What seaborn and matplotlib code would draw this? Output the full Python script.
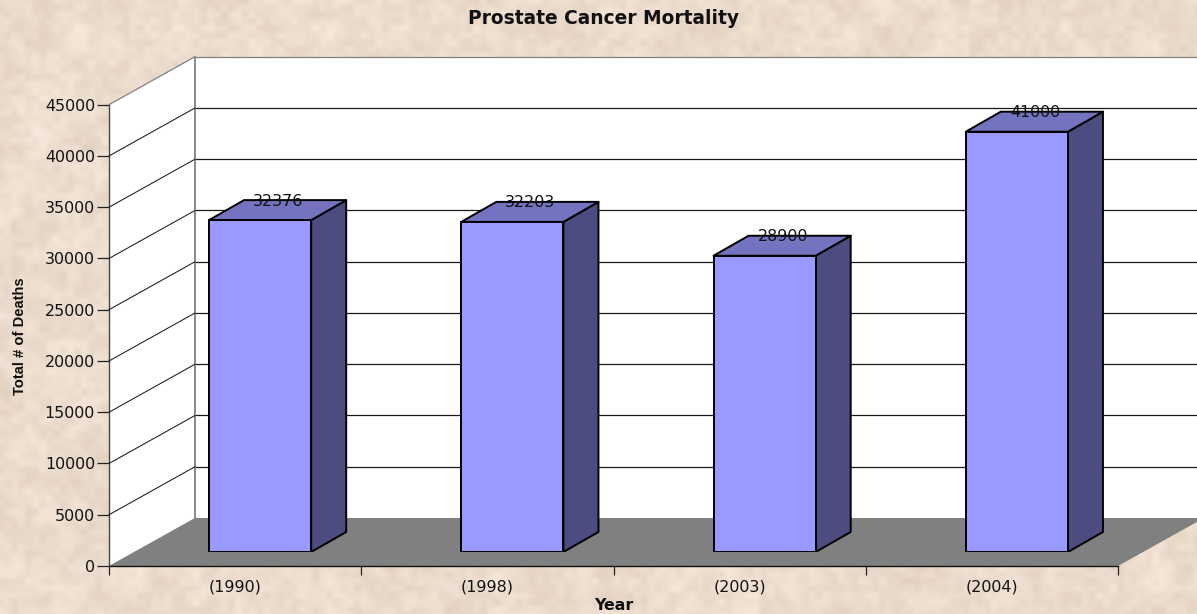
import numpy as np
import pandas as pd
import seaborn as sns
import matplotlib
matplotlib.use("Agg")
import matplotlib.pyplot as plt
from matplotlib.patches import Polygon
from matplotlib.transforms import ScaledTranslation

years = ["(1990)", "(1998)", "(2003)", "(2004)"]
deaths = [32376, 32203, 28900, 41000]
y_ticks = [0, 5000, 10000, 15000, 20000, 25000, 30000, 35000, 40000, 45000]
title = "Prostate Cancer Mortality"
x_title = "Year"
y_title = "Total # of Deaths"

W, H, DPI = 1197, 614, 100
sns.set_theme(style="white")
plt.rcParams["font.family"] = ["DejaVu Sans"]

fig = plt.figure(figsize=(W / DPI, H / DPI), dpi=DPI)


def box(l, r, top, bottom):
    return [l / W, 1 - bottom / H, (r - l) / W, (bottom - top) / H]


def hash_noise(h, w, cell, salt):
    gh, gw = h // cell + 3, w // cell + 3
    j, i = np.meshgrid(np.arange(gw), np.arange(gh))
    g = np.sin(i * 12.9898 + j * 78.233 + salt) * 43758.5453
    g = g - np.floor(g)
    yy, xx = np.mgrid[0:h, 0:w] / cell
    y0, x0 = yy.astype(int), xx.astype(int)
    fy, fx = yy - y0, xx - x0
    fy, fx = fy * fy * (3 - 2 * fy), fx * fx * (3 - 2 * fx)
    return ((g[y0, x0] * (1 - fx) + g[y0, x0 + 1] * fx) * (1 - fy)
            + (g[y0 + 1, x0] * (1 - fx) + g[y0 + 1, x0 + 1] * fx) * fy)


# Mottled paper background
bg = fig.add_axes([0, 0, 1, 1], zorder=0)
tex = (0.4 * hash_noise(H, W, 7, 1.0) + 0.35 * hash_noise(H, W, 15, 2.0)
       + 0.25 * hash_noise(H, W, 34, 3.0)) - 0.5
base = np.array([236, 220, 205]) / 255
amp = np.array([26, 30, 34]) / 255
bg.imshow(np.clip(base + tex[..., None] * amp, 0, 1), aspect="auto")
bg.set_axis_off()

# Value axes: front plane of the 3-D box
ax = fig.add_axes(box(109, 1118, 104.7, 566), zorder=1)
ax.patch.set_alpha(0)
ax.set_xlim(-0.5, 3.5)
ax.set_ylim(0, 45000)

DX, DY = 86, 48  # box depth in pixels


def shifted(dx, dy):
    return ax.transData + ScaledTranslation(dx / DPI, dy / DPI, fig.dpi_scale_trans)


back = shifted(DX, DY)
x0, x1 = ax.get_xlim()
y_top = y_ticks[-1]
ax.fill([x0, x1, x1, x0], [0, 0, y_top, y_top], color="white", transform=back,
        clip_on=False, zorder=1, lw=0)
side = Polygon([ax.transData.transform((x0, 0)), back.transform((x0, 0)),
                back.transform((x0, y_top)), ax.transData.transform((x0, y_top))],
               closed=True, transform=None, facecolor="white", edgecolor="none", zorder=1)
ax.add_patch(side)
side.set_clip_on(False)
floor = Polygon([ax.transData.transform((x0, 0)), back.transform((x0, 0)),
                 back.transform((x1, 0)), ax.transData.transform((x1, 0))],
                closed=True, transform=None, facecolor="#808080", edgecolor="none", zorder=2)
ax.add_patch(floor)
floor.set_clip_on(False)

for v in y_ticks[1:]:
    c = "#808080" if v == y_top else "#1a1a1a"
    pa, pb = ax.transData.transform((x0, v)), back.transform((x0, v))
    fig.add_artist(plt.Line2D([pa[0] / W, pb[0] / W], [pa[1] / H, pb[1] / H], color=c,
                              lw=0.9 if v == y_top else 0.75, zorder=1.5))
    ax.plot([x0, x1], [v, v], color=c, lw=0.9, transform=back, clip_on=False, zorder=1.6)
ax.plot([x0, x0], [0, y_top], color="#808080", lw=1.3, transform=back, clip_on=False, zorder=1.7)

sns.despine(ax=ax)
for s in ("left", "bottom"):
    ax.spines[s].set_color("#111111")
    ax.spines[s].set_linewidth(1.0)
    ax.spines[s].set_zorder(6)
ax.spines["left"].set_color("#444444")
ax.set_yticks(y_ticks)
ax.set_xticks(np.arange(len(years) + 1) - 0.5)
ax.set_xticklabels([])
ax.set_xticks(np.arange(len(years)), labels=years, minor=True)
ax.tick_params(axis="y", which="major", left=True, length=8.6, width=0.9, color="#222222",
               pad=1.5, labelsize=11.4, labelcolor="#111111")
ax.tick_params(axis="x", which="major", bottom=True, length=6.2, width=0.9, color="#222222")
ax.tick_params(axis="x", which="minor", bottom=False, length=0, pad=9.8, labelsize=11.4,
               labelcolor="#111111")
ax.set_xlabel(x_title, fontweight="bold", fontsize=11.4, color="#111111", va="center")
ax.xaxis.set_label_coords(0.5, -0.0867)
ax.set_ylabel(y_title, fontweight="bold", fontsize=10.6, color="#111111",
              family=["Liberation Sans"], va="center")
ax.yaxis.set_label_coords(-0.0885, 0.4986)
fig.text(604 / W, 1 - 19 / H, title, ha="center", va="center", fontweight="bold",
         fontsize=13.4, color="#111111")

# Bars: a second axes shifted into the depth of the box
bx = fig.add_axes(box(134, 1143, 90.7, 552), zorder=2)
bx.patch.set_alpha(0)
df = pd.DataFrame({"year": years, "deaths": deaths})
sns.barplot(data=df, x="year", y="deaths", ax=bx, color="#9999FF", saturation=1,
            width=0.405, edgecolor="black", linewidth=1.4, zorder=4)
bx.set_xlim(-0.5, 3.5)
bx.set_ylim(0, 45000)
bx.set_axis_off()

BDX, BDY = 35, 20
for rect, value in zip(bx.patches, deaths):
    l, r = rect.get_x(), rect.get_x() + rect.get_width()
    (xl, yb), (xr, yt) = bx.transData.transform([(l, 0), (r, value)])
    bx.add_patch(Polygon([(xr, yb), (xr + BDX, yb + BDY), (xr + BDX, yt + BDY), (xr, yt)],
                         closed=True, transform=None, facecolor="#4C4C80",
                         edgecolor="black", lw=1.4, zorder=3, joinstyle="round"))
    bx.add_patch(Polygon([(xl, yt), (xr, yt), (xr + BDX, yt + BDY), (xl + BDX, yt + BDY)],
                         closed=True, transform=None, facecolor="#7373BF",
                         edgecolor="black", lw=1.4, zorder=3, joinstyle="round"))
    bx.annotate(str(value), xy=((l + r) / 2, value), xytext=(18 * 0.72, 19 * 0.72),
                textcoords="offset points", ha="center", va="center", fontsize=11.4,
                color="#111111", zorder=7, annotation_clip=False)

fig.savefig("out.png", dpi=DPI)
